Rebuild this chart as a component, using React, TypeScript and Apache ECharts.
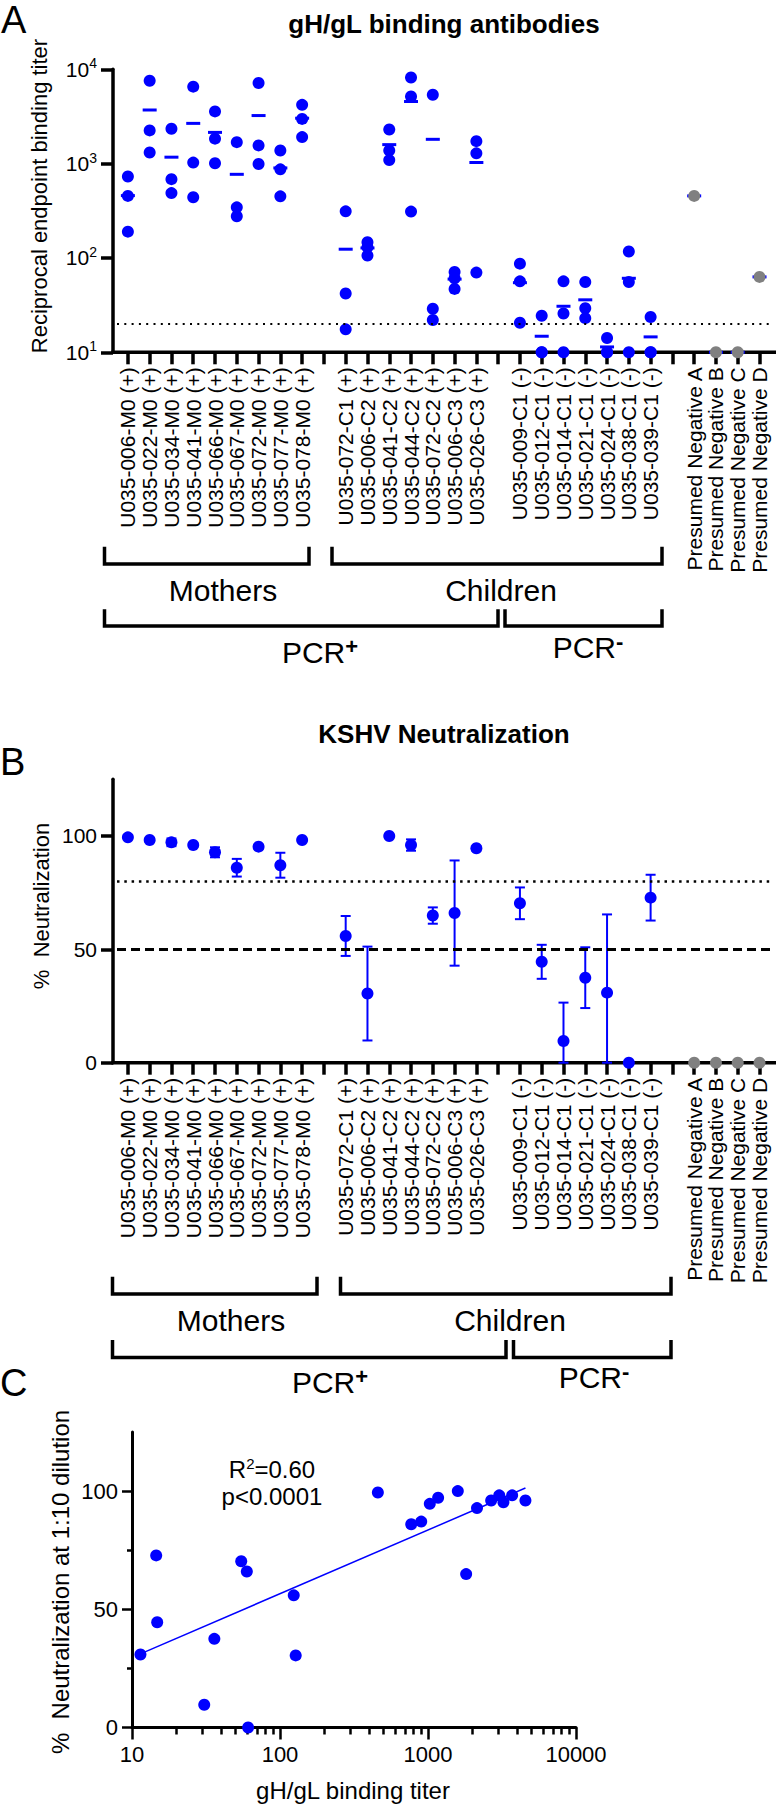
import { useEffect, useRef } from 'react';
import * as echarts from 'echarts';

const FONT = '"Liberation Sans", Arial, Helvetica, sans-serif';
const BLUE = '#0000ff';
const GREY = '#808080';
const BLACK = '#000000';

// Subjects in x-axis order
const motherIds = ['U035-006-M0', 'U035-022-M0', 'U035-034-M0', 'U035-041-M0', 'U035-066-M0', 'U035-067-M0', 'U035-072-M0', 'U035-077-M0', 'U035-078-M0'];
const childPosIds = ['U035-072-C1', 'U035-006-C2', 'U035-041-C2', 'U035-044-C2', 'U035-072-C2', 'U035-006-C3', 'U035-026-C3'];
const childNegIds = ['U035-009-C1', 'U035-012-C1', 'U035-014-C1', 'U035-021-C1', 'U035-024-C1', 'U035-038-C1', 'U035-039-C1'];
const presumedIds = ['Presumed Negative A', 'Presumed Negative B', 'Presumed Negative C', 'Presumed Negative D'];

// gH/gL reciprocal endpoint binding titers (replicates per subject)
const motherTiters = [[730, 455, 190], [7550, 2250, 1310], [2340, 685, 487], [6550, 1025, 440], [3580, 1840, 1010], [1690, 344, 277], [7150, 1560, 990], [1380, 870, 450], [4200, 2980, 1910]];
const childPosTiters = [[312, 42, 17.5], [147, 130, 106], [2300, 1380, 1090], [8200, 5150, 310], [5380, 29, 22], [71, 61, 47], [1730, 1285, 70]];
const childNegTiters = [[87, 56.5, 20.6], [24.4, 10, 10], [56.5, 25.8, 10], [55.7, 29.3, 23], [14.2, 10, 10], [117, 55.7, 10], [23.7, 10, 10]];
const presumedTiters = [[455], [10], [10], [63]];

// KSHV neutralization at 1:10 dilution (%), mean and SD
const motherNeut = [99.4, 98.2, 97.2, 96.0, 92.8, 86.0, 95.3, 87.1, 98.2];
const motherNeutSd = [0, 0.7, 1.7, 0.8, 2.2, 3.9, 0.8, 5.5, 0.5];
const childPosNeut = [55.9, 30.5, 100, 96.0, 64.9, 66.0, 94.6];
const childPosNeutSd = [8.8, 20.7, 0, 2.5, 3.6, 23.2, 0];
const childNegNeut = [70.3, 44.5, 9.6, 37.5, 30.9, 0, 72.8];
const childNegNeutSd = [7.0, 7.5, 16.9, 13.4, 34.5, 0, 10.1];
const presumedNeut = [0, 0, 0, 0];

// Reference lines and axis ticks
const bindingCutoff = 20;
const neutDotted = 80;
const neutDashed = 50;
const titerRange = [10, 10000];
const neutRange = [0, 125];
const neutLabelTicks = [0, 50, 100];
const neutMinorTicks = [25, 75];
const corrRange = [10, 10000];
const statLine1 = '{a|R}{s|2}{a|=0.60}';
const statLine2 = '{a|p<0.0001}';

type Slot = { label: string; titers: number[]; neut: number; sd: number; color: string; inC: boolean } | null;

const mean = (a: number[]) => a.reduce((s, v) => s + v, 0) / a.length;

const slots: Slot[] = [
  ...motherIds.map((id, i) => ({ label: `${id} (+)`, titers: motherTiters[i], neut: motherNeut[i], sd: motherNeutSd[i], color: BLUE, inC: true })),
  null,
  ...childPosIds.map((id, i) => ({ label: `${id} (+)`, titers: childPosTiters[i], neut: childPosNeut[i], sd: childPosNeutSd[i], color: BLUE, inC: true })),
  null,
  ...childNegIds.map((id, i) => ({ label: `${id} (-)`, titers: childNegTiters[i], neut: childNegNeut[i], sd: childNegNeutSd[i], color: BLUE, inC: true })),
  null,
  ...presumedIds.map((id, i) => ({ label: id, titers: presumedTiters[i], neut: presumedNeut[i], sd: 0, color: GREY, inC: false })),
];

let gap = 0;
const categories = slots.map((s) => (s ? s.label : ' '.repeat(++gap)));

// layout
const SLOT_W = 21.78;
const PLOT_LEFT = 117;
const PLOT_W = SLOT_W * slots.length;
const A_TOP = 69.3;
const A_BOTTOM = 352.3;
const B_TOP = 779.3;
const B_BOTTOM = 1062.7;
const C_LEFT = 132;
const C_TOP = 1432;
const C_BOTTOM = 1727.5;
const C_RIGHT = 576;

const txt = (size: number, weight: string | number = 'normal') => ({ fontSize: size, fontFamily: FONT, fontWeight: weight, color: BLACK });

function buildOption() {
  const pointsA: any[] = [];
  const meansA: any[] = [];
  const pointsB: any[] = [];
  const errB: any[] = [];
  slots.forEach((s, idx) => {
    if (!s) return;
    s.titers.forEach((v) => pointsA.push({ value: [idx, v], itemStyle: { color: s.color, opacity: 1 } }));
    meansA.push([idx, mean(s.titers)]);
    pointsB.push({ value: [idx, s.neut], itemStyle: { color: s.color, opacity: 1 } });
    if (s.sd > 0) errB.push([idx, Math.max(neutRange[0], s.neut - s.sd), Math.min(neutRange[1], s.neut + s.sd)]);
  });

  // correlation: mean binding titer vs neutralization
  const corr = slots.filter((s) => s && s.inC).map((s) => [mean(s!.titers), s!.neut]);
  const lx = corr.map((p) => Math.log10(p[0]));
  const ly = corr.map((p) => p[1]);
  const mx = mean(lx);
  const my = mean(ly);
  let sxy = 0;
  let sxx = 0;
  lx.forEach((x, i) => {
    sxy += (x - mx) * (ly[i] - my);
    sxx += (x - mx) * (x - mx);
  });
  const slope = sxy / sxx;
  const icpt = my - slope * mx;
  const x0 = Math.min(...lx);
  const x1 = Math.max(...lx);
  const fit = [[Math.pow(10, x0), icpt + slope * x0], [Math.pow(10, x1), icpt + slope * x1]];

  const minorLog: number[] = [];
  for (let d = 1; d < 4; d++) for (let k = 2; k <= 9; k++) minorLog.push(d + Math.log10(k));

  const catAxis = (gridIndex: number) => ({
    type: 'category',
    gridIndex,
    position: 'bottom',
    data: categories,
    boundaryGap: true,
    axisLine: { show: false, onZero: false },
    axisTick: { show: true, alignWithLabel: true, interval: 0, length: 12, lineStyle: { color: BLACK, width: 3.5 } },
    axisLabel: { interval: 0, rotate: 90, margin: 15, ...txt(21) },
    splitLine: { show: false },
  });

  const rightLabel = { margin: 16, ...txt(21) };

  const errorBars = {
    type: 'custom',
    xAxisIndex: 1,
    yAxisIndex: 1,
    data: errB,
    z: 2,
    encode: { x: 0, y: [1, 2] },
    renderItem: (_p: any, api: any) => {
      const x = api.value(0);
      const lo = api.coord([x, api.value(1)]);
      const hi = api.coord([x, api.value(2)]);
      const hw = 5;
      const style = { stroke: BLUE, lineWidth: 2 };
      return {
        type: 'group',
        children: [
          { type: 'line', shape: { x1: hi[0], y1: hi[1], x2: lo[0], y2: lo[1] }, style },
          { type: 'line', shape: { x1: hi[0] - hw, y1: hi[1], x2: hi[0] + hw, y2: hi[1] }, style },
          { type: 'line', shape: { x1: lo[0] - hw, y1: lo[1], x2: lo[0] + hw, y2: lo[1] }, style },
        ],
      };
    },
  };

  const bracket = (x1: number, x2: number, yTop: number, yBot: number) => ({
    type: 'polyline',
    shape: { points: [[x1, yTop], [x1, yBot], [x2, yBot], [x2, yTop]] },
    style: { stroke: BLACK, lineWidth: 3.5, fill: null, lineJoin: 'miter' },
  });

  const label = (text: string, x: number, y: number, size: number, extra: any = {}) => ({
    type: 'text',
    x,
    y,
    ...extra.el,
    style: { text, fontSize: size, fontFamily: FONT, fontWeight: extra.weight || 'normal', fill: BLACK, align: extra.align || 'center', verticalAlign: 'middle', ...(extra.rich ? { rich: extra.rich } : {}) },
  });

  const supRich = {
    a: { fontSize: 30, fontFamily: FONT, fill: BLACK, lineHeight: 34 },
    s: { fontSize: 22, fontFamily: FONT, fontWeight: 'bold', fill: BLACK, lineHeight: 20, verticalAlign: 'top' },
  };
  const statRich = {
    a: { fontSize: 24, fontFamily: FONT, fill: BLACK, lineHeight: 27 },
    s: { fontSize: 15, fontFamily: FONT, fill: BLACK, lineHeight: 15, verticalAlign: 'top' },
  };

  const graphic: any[] = [
    // panel letters and titles
    label('A', 1, 20, 38, { align: 'left' }),
    label('B', 0, 761.5, 38, { align: 'left' }),
    label('C', 0, 1383, 38, { align: 'left' }),
    label('gH/gL binding antibodies', 444, 24, 26, { weight: 'bold' }),
    label('KSHV Neutralization', 444, 734, 26, { weight: 'bold' }),
    label('Reciprocal endpoint binding titer', 39, 196, 22, { el: { rotation: Math.PI / 2 } }),
    label('%  Neutralization', 41, 906, 22, { el: { rotation: Math.PI / 2 } }),
    label('%  Neutralization at 1:10 dilution', 60, 1582, 24, { el: { rotation: Math.PI / 2 } }),
    label('gH/gL binding titer', 353, 1790, 24),
    label(`${statLine1}\n${statLine2}`, 272, 1483, 24, { rich: statRich }),
    // x axis lines of the category panels
    { type: 'line', shape: { x1: 111.25, y1: A_BOTTOM, x2: 776, y2: A_BOTTOM }, style: { stroke: BLACK, lineWidth: 3.5 } },
    { type: 'line', shape: { x1: 111.25, y1: B_BOTTOM, x2: 776, y2: B_BOTTOM }, style: { stroke: BLACK, lineWidth: 3.5 } },
    // group brackets, panel A
    bracket(104.5, 309, 546.7, 564),
    bracket(332, 662, 546.7, 564),
    bracket(104.5, 498, 609.3, 626),
    bracket(505, 662, 609.3, 626),
    label('Mothers', 223, 590.8, 30),
    label('Children', 501, 590.8, 30),
    label('{a|PCR}{s|+}', 320, 652.5, 30, { rich: supRich }),
    label('{a|PCR}{s|-}', 588, 647.5, 30, { rich: supRich }),
    // group brackets, panel B
    bracket(112.5, 317, 1276.7, 1294),
    bracket(340.5, 671, 1276.7, 1294),
    bracket(112.5, 506, 1340, 1357.5),
    bracket(513.5, 671, 1340, 1357.5),
    label('Mothers', 231, 1320.8, 30),
    label('Children', 510, 1320.8, 30),
    label('{a|PCR}{s|+}', 330, 1382.5, 30, { rich: supRich }),
    label('{a|PCR}{s|-}', 594, 1377.5, 30, { rich: supRich }),
  ];

  return {
    animation: false,
    backgroundColor: '#ffffff',
    grid: [
      { left: PLOT_LEFT, top: A_TOP, width: PLOT_W, height: A_BOTTOM - A_TOP, containLabel: false, outerBoundsMode: 'none' },
      { left: PLOT_LEFT, top: B_TOP, width: PLOT_W, height: B_BOTTOM - B_TOP, containLabel: false, outerBoundsMode: 'none' },
      { left: C_LEFT, top: C_TOP, width: C_RIGHT - C_LEFT, height: C_BOTTOM - C_TOP, containLabel: false, outerBoundsMode: 'none' },
    ],
    xAxis: [
      catAxis(0),
      catAxis(1),
      {
        type: 'log',
        gridIndex: 2,
        position: 'bottom',
        logBase: 10,
        min: corrRange[0],
        max: corrRange[1],
        axisLine: { show: true, onZero: false, lineStyle: { color: BLACK, width: 3 } },
        axisTick: { show: true, length: 12, lineStyle: { color: BLACK, width: 2.5 } },
        axisLabel: { margin: 16, ...txt(22), formatter: (v: number) => String(Math.round(v)) },
        splitLine: { show: false },
        minorTick: { show: false },
      },
      {
        type: 'value',
        gridIndex: 2,
        position: 'bottom',
        min: Math.log10(corrRange[0]),
        max: Math.log10(corrRange[1]),
        axisLine: { show: false, onZero: false },
        axisTick: { show: true, length: 7, customValues: minorLog, lineStyle: { color: BLACK, width: 2.5 } },
        axisLabel: { show: false },
        splitLine: { show: false },
      },
    ],
    yAxis: [
      {
        type: 'log',
        gridIndex: 0,
        position: 'left',
        logBase: 10,
        min: titerRange[0],
        max: titerRange[1],
        offset: 4,
        axisLine: { show: true, lineStyle: { color: BLACK, width: 3.5 } },
        axisTick: { show: true, length: 12, lineStyle: { color: BLACK, width: 3.5 } },
        axisLabel: {
          ...rightLabel,
          formatter: (v: number) => `{b|10}{s|${Math.round(Math.log10(v))}}`,
          rich: {
            b: { fontSize: 21, fontFamily: FONT, color: BLACK, lineHeight: 26 },
            s: { fontSize: 14, fontFamily: FONT, color: BLACK, lineHeight: 16, verticalAlign: 'top' },
          },
        },
        splitLine: { show: false },
        minorTick: { show: false },
      },
      {
        type: 'value',
        gridIndex: 1,
        position: 'left',
        min: neutRange[0],
        max: neutRange[1],
        offset: 4,
        axisLine: { show: true, lineStyle: { color: BLACK, width: 3.5 } },
        axisTick: { show: true, length: 12, customValues: neutLabelTicks, lineStyle: { color: BLACK, width: 3.5 } },
        axisLabel: { ...rightLabel, customValues: neutLabelTicks },
        splitLine: { show: false },
      },
      {
        type: 'value',
        gridIndex: 2,
        position: 'left',
        min: neutRange[0],
        max: neutRange[1],
        axisLine: { show: true, lineStyle: { color: BLACK, width: 3 } },
        axisTick: { show: true, length: 10, customValues: neutLabelTicks, lineStyle: { color: BLACK, width: 2.5 } },
        axisLabel: { margin: 14, ...txt(22), customValues: neutLabelTicks },
        splitLine: { show: false },
      },
      {
        type: 'value',
        gridIndex: 2,
        position: 'left',
        min: neutRange[0],
        max: neutRange[1],
        axisLine: { show: false },
        axisTick: { show: true, length: 5, customValues: neutMinorTicks, lineStyle: { color: BLACK, width: 2.5 } },
        axisLabel: { show: false },
        splitLine: { show: false },
      },
    ],
    series: [
      {
        type: 'scatter',
        name: 'mean titer',
        xAxisIndex: 0,
        yAxisIndex: 0,
        data: meansA,
        symbol: 'rect',
        symbolSize: [14, 3],
        itemStyle: { color: BLUE, opacity: 1 },
        z: 2,
        markLine: {
          silent: true,
          symbol: 'none',
          label: { show: false },
          lineStyle: { color: BLACK, width: 2, type: [2, 5.3] },
          data: [{ yAxis: bindingCutoff }],
        },
      },
      {
        type: 'scatter',
        name: 'titer',
        xAxisIndex: 0,
        yAxisIndex: 0,
        data: pointsA,
        symbolSize: 12,
        z: 3,
      },
      errorBars,
      {
        type: 'scatter',
        name: 'neutralization',
        xAxisIndex: 1,
        yAxisIndex: 1,
        data: pointsB,
        symbolSize: 12,
        z: 3,
        markLine: {
          silent: true,
          symbol: 'none',
          label: { show: false },
          data: [
            { yAxis: neutDotted, lineStyle: { color: BLACK, width: 2.5, type: [2.5, 4.8] } },
            { yAxis: neutDashed, lineStyle: { color: BLACK, width: 3, type: [9, 5] } },
          ],
        },
      },
      {
        type: 'line',
        name: 'fit',
        xAxisIndex: 2,
        yAxisIndex: 2,
        data: fit,
        symbol: 'none',
        lineStyle: { color: BLUE, width: 1.5 },
        z: 2,
      },
      {
        type: 'scatter',
        name: 'correlation',
        xAxisIndex: 2,
        yAxisIndex: 2,
        data: corr,
        symbolSize: 12,
        itemStyle: { color: BLUE, opacity: 1 },
        z: 3,
      },
    ],
    graphic,
  };
}

export default function App() {
  const ref = useRef<HTMLDivElement>(null);
  useEffect(() => {
    if (!ref.current) return;
    const chart = echarts.init(ref.current, undefined, { renderer: 'svg' });
    chart.setOption(buildOption() as any);
    return () => chart.dispose();
  }, []);
  return <div ref={ref} style={{ position: 'absolute', left: 0, top: 0, width: 779, height: 1806, background: '#fff' }} />;
}
